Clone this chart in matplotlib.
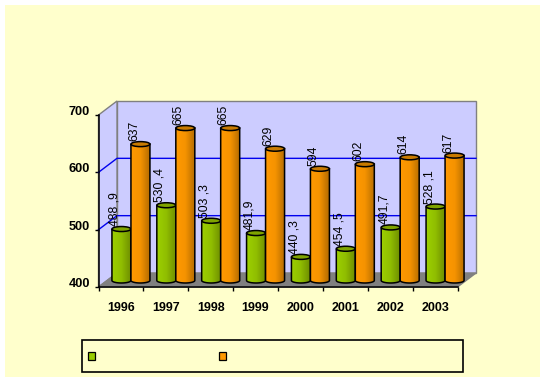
import matplotlib
matplotlib.use('Agg')
import matplotlib.pyplot as plt
import numpy as np
from matplotlib.patches import Rectangle, PathPatch, Ellipse, Polygon
from matplotlib.path import Path
from matplotlib.colors import LinearSegmentedColormap
from matplotlib.transforms import ScaledTranslation

plt.rcParams['font.family'] = ['Liberation Sans', 'DejaVu Sans']

years = ['1996', '1997', '1998', '1999', '2000', '2001', '2002', '2003']
green_vals = [488.9, 530.4, 503.3, 481.9, 440.3, 454.5, 491.7, 528.1]
orange_vals = [637, 665, 665, 629, 594, 602, 614, 617]
green_labels = ['488 ,9', '530 ,4', '503 ,3', '481,9', '440 ,3', '454 ,5', '491,7', '528 ,1']
orange_labels = ['637', '665', '665', '629', '594', '602', '614', '617']

W, H = 545, 381
fig = plt.figure(figsize=(W / 100, H / 100), dpi=100, facecolor='white')

# page background and legend box, in pixels from top left
def px_rect(x0, y0, x1, y1, **kw):
    fig.add_artist(Rectangle((x0 / W, 1 - y1 / H), (x1 - x0) / W, (y1 - y0) / H,
                             transform=fig.transFigure, zorder=-1, **kw))

px_rect(5, 5, 540, 376.5, facecolor='#FFFFCC', edgecolor='none')
px_rect(81.5, 340, 463, 371.5, facecolor='#FFFFCC', edgecolor='black', linewidth=1.2)
px_rect(87.5, 352, 95, 359.5, facecolor='#99CC00', edgecolor='black', linewidth=0.9)
px_rect(219, 352, 226.5, 359.5, facecolor='#FF9900', edgecolor='black', linewidth=0.9)

ax = fig.add_axes([98.5 / W, 1 - 287 / H, 359 / W, 172 / H])
ax.patch.set_visible(False)
ax.set_xlim(0, 8)
ax.set_ylim(400, 700)

px_x = 8 / 359
px_y = 300 / 172

# depth of the fake 3d box
dx = 18.5 * px_x
dy = 14 * px_y

wall = '#CCCCFF'
grey = '#808080'
ax.add_patch(Polygon([(dx, 400 + dy), (8 + dx, 400 + dy), (8 + dx, 700 + dy), (dx, 700 + dy)],
                     facecolor=wall, edgecolor=grey, linewidth=1, clip_on=False, zorder=1))
ax.add_patch(Polygon([(0, 400), (dx, 400 + dy), (dx, 700 + dy), (0, 700)],
                     facecolor=wall, edgecolor=grey, linewidth=1, clip_on=False, zorder=1))
ax.add_patch(Polygon([(0, 400), (8, 400), (8 + dx, 400 + dy), (dx, 400 + dy)],
                     facecolor=grey, edgecolor=grey, linewidth=1, clip_on=False, zorder=1))

for v in [500, 600]:
    ax.plot([0, dx, 8 + dx], [v, v + dy, v + dy], color='#0000EE', linewidth=1,
            clip_on=False, zorder=2)

green_cm = LinearSegmentedColormap.from_list('g', ['#9CCF00', '#90BE00', '#6F8F00'])
orange_cm = LinearSegmentedColormap.from_list('o', ['#FF9900', '#F59300', '#B56C00'])
grad = np.linspace(0, 1, 64).reshape(1, -1)

bar_w = 19 * px_x
shift_x = 10 * px_x
shift_y = 7 * px_y
arc_h = 2.5 * px_y


def cylinder(xc, val, cmap, top_col, z):
    x0, x1 = xc - bar_w / 2, xc + bar_w / 2
    base = 400 + 6.5 * px_y
    top = val + shift_y
    t = np.linspace(np.pi, 2 * np.pi, 30)
    xs = xc + np.cos(t) * bar_w / 2
    low = base + np.sin(t) * arc_h
    pts = [(x0, top)] + list(zip(xs, low)) + [(x1, top), (x0, top)]
    path = Path(pts)
    outline = PathPatch(path, facecolor='none', edgecolor='black', linewidth=1.1,
                        clip_on=False, zorder=z + 0.2)
    ax.add_patch(outline)
    im = ax.imshow(grad, extent=(x0, x1, base - arc_h, top), aspect='auto', cmap=cmap,
                   interpolation='bilinear', zorder=z)
    body = PathPatch(path, transform=ax.transData, facecolor='none', edgecolor='none')
    im.set_clip_box(fig.bbox)
    im.set_clip_path(body)
    ax.add_patch(Ellipse((xc, top), bar_w, 2 * arc_h, facecolor=top_col, edgecolor='black',
                         linewidth=1.1, clip_on=False, zorder=z + 0.3))


for i in range(len(years)):
    c = i + 0.5 + shift_x
    cylinder(c - bar_w / 2, green_vals[i], green_cm, '#7FA300', 3)
    cylinder(c + bar_w / 2, orange_vals[i], orange_cm, '#C87A00', 4)
    for xc, val, txt in [(c - bar_w / 2, green_vals[i], green_labels[i]),
                         (c + bar_w / 2, orange_vals[i], orange_labels[i])]:
        ax.text(xc - 6.5 * px_x, val + shift_y + 3 * px_y, txt, rotation=90, ha='center',
                va='bottom', fontsize=8.7, color='black', zorder=6)

ax.set_xlim(0, 8)
ax.set_ylim(400, 700)

ax.set_yticks([400, 500, 600, 700])
ax.set_xticks(range(9))
ax.set_xticklabels([])
ax.set_xticks(np.arange(8) + 0.5, labels=years, minor=True)
ax.tick_params(axis='x', which='major', length=3, width=1, color='black')
ax.tick_params(axis='x', which='minor', length=0, pad=11, labelsize=9)
ax.tick_params(axis='y', length=3, width=1, color='black', pad=3, labelsize=9.2)
for lab in ax.get_xticklabels(minor=True) + ax.get_yticklabels():
    lab.set_fontweight('bold')
# the value labels sit a little above their ticks
up = ScaledTranslation(0, 4.5 / 100, fig.dpi_scale_trans)
for lab in ax.get_yticklabels():
    lab.set_transform(lab.get_transform() + up)
for s in ['top', 'right']:
    ax.spines[s].set_visible(False)
for s in ['left', 'bottom']:
    ax.spines[s].set_linewidth(1.1)
    ax.spines[s].set_zorder(5)

fig.savefig('out.png', dpi=100)
